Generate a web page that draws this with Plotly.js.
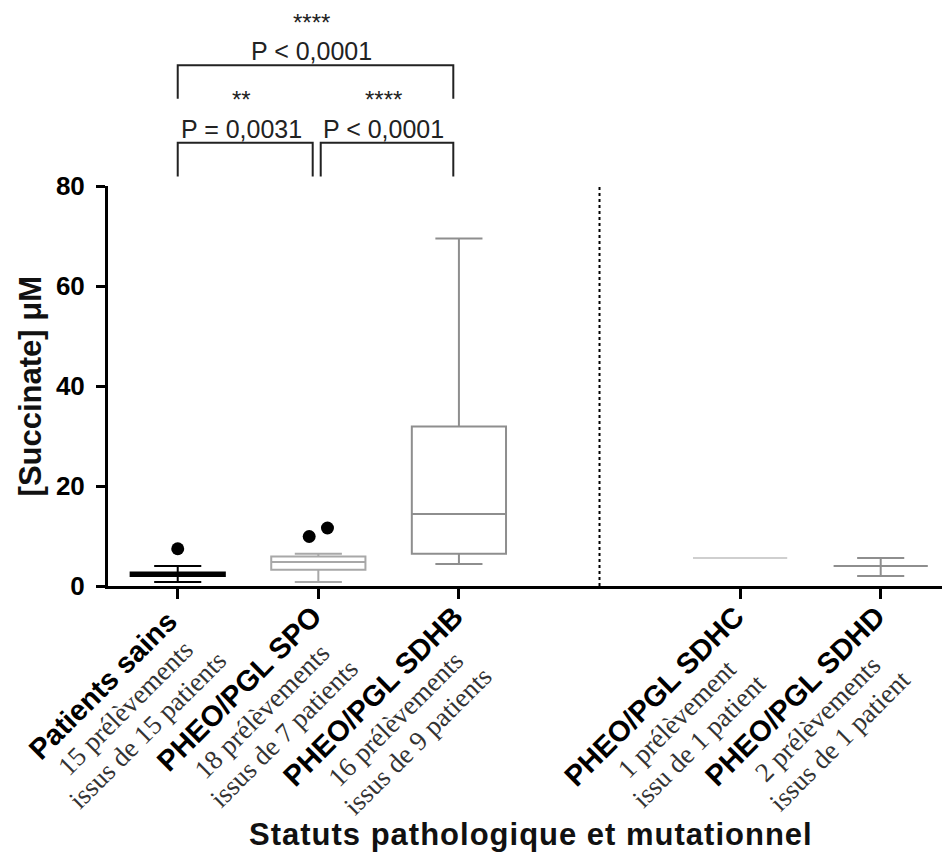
<!DOCTYPE html>
<html>
<head>
<meta charset="utf-8">
<script src="https://cdn.plot.ly/plotly-3.0.1.min.js"></script>
<style>html,body{margin:0;padding:0;background:#fff;}#chart{width:942px;height:856px;}</style>
</head>
<body>
<div id="chart"></div>
<script>
// ---- data ----
const categories = ['Patients sains', 'PHEO/PGL SPO', 'PHEO/PGL SDHB', 'PHEO/PGL SDHC', 'PHEO/PGL SDHD'];
const sampleCounts = ['15 prélèvements', '18 prélèvements', '16 prélèvements', '1 prélèvement', '2 prélèvements'];
const patientCounts = ['issus de 15 patients', 'issus de 7 patients', 'issus de 9 patients', 'issu de 1 patient', 'issus de 1 patient'];
const lowerWhisker = [0.8, 0.8, 4.4, 5.6, 2.0];
const q1Values = [2.0, 3.25, 6.45, 5.6, 4.0];
const medianValues = [2.4, 4.8, 14.4, 5.6, 4.0];
const q3Values = [2.7, 5.9, 31.9, 5.6, 4.0];
const upperWhisker = [4.0, 6.45, 69.5, 5.6, 5.6];
const outlierGroup = [0, 1, 1];
const outlierValues = [7.45, 9.9, 11.6];
const comparisonFrom = [0, 1, 0];
const comparisonTo = [1, 2, 2];
const comparisonStars = ['**', '****', '****'];
const comparisonP = ['P = 0,0031', 'P < 0,0001', 'P < 0,0001'];
const comparisonLevel = [0, 0, 1];
const yTicks = [0, 20, 40, 60, 80];

// ---- styles ----
const boxLineColors = ['#000000', '#a8a8a8', '#8e8e8e', '#cfcfcf', '#8e8e8e'];
const boxFillColors = ['#000000', 'rgba(255,255,255,0)', 'rgba(255,255,255,0)', 'rgba(255,255,255,0)', 'rgba(255,255,255,0)'];
const groupBreak = 3; // an empty slot separates the first three groups from the others
const pos = i => (i < groupBreak ? i : i + 1);

const traces = categories.map((c, i) => ({
  type: 'box',
  orientation: 'v',
  x: [pos(i)],
  q1: [q1Values[i]],
  median: [medianValues[i]],
  q3: [q3Values[i]],
  lowerfence: [lowerWhisker[i]],
  upperfence: [upperWhisker[i]],
  width: 0.67,
  whiskerwidth: 0.5,
  line: {color: boxLineColors[i], width: 2},
  fillcolor: boxFillColors[i],
  boxpoints: false,
  hoverinfo: 'skip',
  showlegend: false
}));

// outliers: dodge points of the same group
const outX = outlierGroup.map((g, k) => {
  const same = outlierGroup.map((gg, kk) => gg === g ? kk : -1).filter(v => v >= 0);
  const rank = same.indexOf(k);
  return pos(g) + (rank - (same.length - 1) / 2) * 0.13;
});
traces.push({
  type: 'scatter', mode: 'markers', x: outX, y: outlierValues,
  marker: {color: '#000', size: 13}, hoverinfo: 'skip', showlegend: false, cliponaxis: false
});

const shapes = [{
  type: 'line', xref: 'x', yref: 'y', x0: groupBreak, x1: groupBreak, y0: 0, y1: 80,
  line: {color: '#000', width: 2, dash: '3px,3px'}
}];
const annotations = [];

// significance brackets
comparisonFrom.forEach((a, k) => {
  const b = comparisonTo[k];
  const x0 = pos(a) + (a > 0 ? 0.017 : 0);
  const x1 = pos(b) - 0.04;
  const top = 1.108 + comparisonLevel[k] * 0.194;
  const legs = top - 0.084;
  shapes.push({
    type: 'path', xref: 'x', yref: 'paper',
    path: `M ${x0},${legs} L ${x0},${top} L ${x1},${top} L ${x1},${legs}`,
    line: {color: '#222', width: 2}
  });
  const xm = (x0 + x1) / 2;
  annotations.push({
    xref: 'x', yref: 'paper', x: xm, y: top, xshift: -4, yshift: 14,
    text: comparisonP[k], showarrow: false, xanchor: 'center', yanchor: 'middle', borderpad: 0,
    font: {family: 'Liberation Sans', size: 25, color: '#222'}
  });
  annotations.push({
    xref: 'x', yref: 'paper', x: xm, y: top, xshift: -4, yshift: 43,
    text: comparisonStars[k], showarrow: false, xanchor: 'center', yanchor: 'middle', borderpad: 0,
    font: {family: 'Liberation Sans', size: 24, color: '#222'}
  });
});

// rotated category labels
categories.forEach((c, i) => {
  annotations.push({
    xref: 'x', yref: 'paper', x: pos(i), y: 0, xshift: 57, yshift: -11,
    xanchor: 'right', yanchor: 'top', textangle: -45, align: 'center', showarrow: false,
    text: `<span style="font-size:29px"><b>${c}</b></span><br>` +
          `<span style="font-family:Liberation Serif;font-size:27px;color:#333">${sampleCounts[i]}</span><br>` +
          `<span style="font-family:Liberation Serif;font-size:27px;color:#333">${patientCounts[i]}</span>`,
    font: {family: 'Liberation Sans', size: 24, color: '#000'}
  });
});

// axis titles
annotations.push({
  xref: 'paper', yref: 'paper', x: 0.507, y: -0.621, xanchor: 'center', yanchor: 'middle',
  showarrow: false, text: '<span style="letter-spacing:1px"><b>Statuts pathologique et mutationnel</b></span>',
  font: {family: 'Liberation Sans', size: 31, color: '#111'}
});
annotations.push({
  xref: 'paper', yref: 'paper', x: -0.093, y: 0.5, xanchor: 'center', yanchor: 'middle',
  textangle: -90, showarrow: false, text: '<b>[Succinate] μM</b>',
  font: {family: 'Liberation Sans', size: 31, color: '#111'}
});

const layout = {
  width: 942, height: 856,
  margin: {l: 108, r: 0, t: 186, b: 270},
  paper_bgcolor: '#fff', plot_bgcolor: '#fff',
  boxmode: 'overlay',
  showlegend: false,
  xaxis: {
    range: [-0.496, 5.436], showgrid: false, zeroline: false,
    showline: true, linecolor: '#000', linewidth: 3,
    tickmode: 'array', tickvals: categories.map((c, i) => pos(i)), ticktext: categories.map(() => ''),
    ticks: 'outside', ticklen: 10, tickwidth: 3, tickcolor: '#000', showticklabels: false
  },
  yaxis: {
    range: [0, 80], showgrid: false, zeroline: false,
    showline: true, linecolor: '#000', linewidth: 3,
    tickmode: 'array', tickvals: yTicks, ticktext: yTicks.map(String),
    ticks: 'outside', ticklen: 9, tickwidth: 3, tickcolor: '#000',
    ticklabelstandoff: 6,
    tickfont: {family: 'Liberation Sans', size: 26, color: '#000', weight: 'bold'}
  },
  shapes: shapes,
  annotations: annotations
};

Plotly.newPlot('chart', traces, layout, {displayModeBar: false, staticPlot: true});
</script>
</body>
</html>
